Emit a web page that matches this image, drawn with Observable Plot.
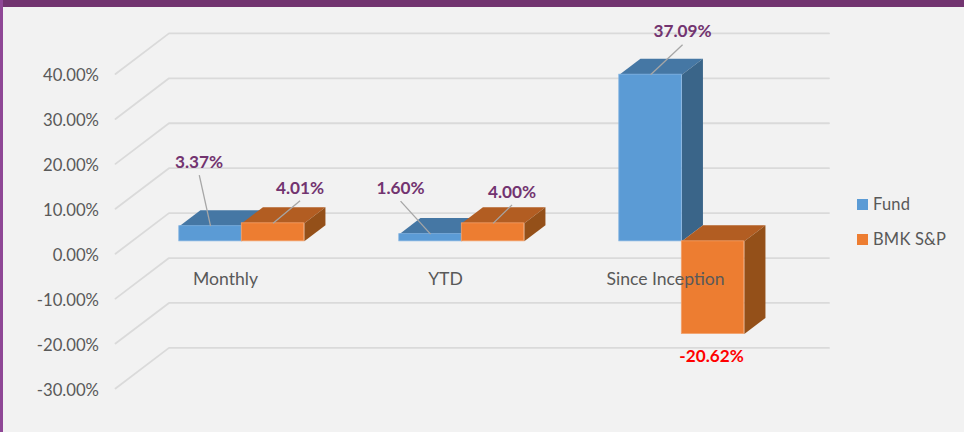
<!DOCTYPE html>
<html>
<head>
<meta charset="utf-8">
<script src="https://cdn.jsdelivr.net/npm/d3@7"></script>
<script src="https://cdn.jsdelivr.net/npm/@observablehq/plot@0.6"></script>
<style>
  html, body { margin: 0; padding: 0; background: #f2f2f2; overflow: hidden; }
  #page { position: relative; width: 964px; height: 432px; background: #f2f2f2; font-family: Lato, sans-serif; }
  #top { position: absolute; left: 0; top: 0; width: 964px; height: 7px; background: #723470; }
  #left { position: absolute; left: 0; top: 0; width: 3px; height: 432px; background: #8f4796; }
  #chart { position: absolute; left: 0; top: 0; }
  #legend { position: absolute; left: 857px; top: 0; color: #595959; font-size: 16.5px; }
  .key { position: absolute; left: 0; width: 150px; height: 20px; line-height: 20px; white-space: nowrap; }
  .key i { position: absolute; left: 0; top: 4.5px; width: 11px; height: 11px; }
  .key span { position: absolute; left: 16px; letter-spacing: .2px; }
</style>
</head>
<body>
<div id="page"><div id="chart"></div><div id="top"></div><div id="left"></div><div id="legend"></div></div>
<script>
const categories = ["Monthly", "YTD", "Since Inception"];
const fund = [3.37, 1.60, 37.09];
const bmk = [4.01, 4.00, -20.62];
const valueTicks = [40, 30, 20, 10, 0, -10, -20, -30];
const seriesNames = ["Fund", "BMK S&P"];

// Pixel offsets of each data label and the far end of its leader, from the bar's front top edge
const fundLabelOffset = [[-11.5, -64], [-30, -45.5], [32, -43.5]];
const fundLeaderOffset = [[-11.3, -51], [-30, -33], [32, -30]];
const bmkLabelOffset = [[27, -34.5], [19, -31], [-1.5, 23]];
const bmkLeaderOffset = [[27, -22.5], [19, -18.5], null];

const blue = {front: "#5b9bd5", top: "#4577a4", side: "#3a6589", edge: "#7fb1e0"};
const orange = {front: "#ed7d31", top: "#b25d22", side: "#945019", edge: "#f3a06a"};

// Oblique projection of the chart's 3D box into the flat x/y scales.
const xRange = [115, 775], yRange = [388, 73.5];
const yDomain = [-30, 40];
const pxX = 3 / (xRange[1] - xRange[0]);
const pxY = (yDomain[1] - yDomain[0]) / (yRange[0] - yRange[1]);
const depthX = 53.5 * pxX, depthY = 40.6 * pxY;
const project = (cat, value, depth) => ({x: cat + depth * depthX, y: value + depth * depthY});

const barWidth = 62.5 * pxX;
const depthFront = 0.305, depthBack = 0.70;

const gridRows = valueTicks.flatMap(v => [
  {v, ...project(0, v, 0)},
  {v, ...project(0, v, 1)},
  {v, ...project(3, v, 1)}
]);

function barMarks(values, slot, colors) {
  return values.flatMap((value, i) => {
    const x0 = i + 0.5 + (slot - 1) * barWidth, x1 = x0 + barWidth;
    const hi = Math.max(value, 0), lo = Math.min(value, 0);
    const top = [project(x0, hi, depthFront), project(x1, hi, depthFront), project(x1, hi, depthBack), project(x0, hi, depthBack)];
    const side = [project(x1, hi, depthFront), project(x1, hi, depthBack), project(x1, lo, depthBack), project(x1, lo, depthFront)];
    const a = project(x0, lo, depthFront), b = project(x1, hi, depthFront);
    return [
      Plot.line(top, {x: "x", y: "y", fill: colors.top, stroke: "none"}),
      Plot.line(side, {x: "x", y: "y", fill: colors.side, stroke: "none"}),
      Plot.rect([{x1: a.x, x2: b.x, y1: a.y, y2: b.y}], {x1: "x1", x2: "x2", y1: "y1", y2: "y2", fill: colors.front, stroke: colors.edge, strokeWidth: 0.8})
    ];
  });
}

function labelRows(values, slot, labelOffset, leaderOffset) {
  return values.map((value, i) => {
    const anchor = project(i + 0.5 + (slot - 0.5) * barWidth, value, depthFront);
    const [lx, ly] = labelOffset[i];
    const lead = leaderOffset[i];
    return {
      value,
      ax: anchor.x, ay: anchor.y,
      tx: anchor.x + lx * pxX, ty: anchor.y - ly * pxY,
      ex: lead ? anchor.x + lead[0] * pxX : null,
      ey: lead ? anchor.y - lead[1] * pxY : null
    };
  });
}

const labels = [
  ...labelRows(fund, 0, fundLabelOffset, fundLeaderOffset),
  ...labelRows(bmk, 1, bmkLabelOffset, bmkLeaderOffset)
];

const chart = Plot.plot({
  width: 964,
  height: 432,
  marginLeft: 98.5,
  marginRight: 0,
  marginTop: 0,
  marginBottom: 160,
  style: {background: "transparent", fontFamily: "Lato, sans-serif", fontSize: "16.7px", overflow: "visible"},
  x: {type: "linear", domain: [0, 3], range: xRange},
  y: {type: "linear", domain: yDomain, range: yRange},
  marks: [
    Plot.line(gridRows, {x: "x", y: "y", z: "v", stroke: "#dadada", strokeWidth: 1.8}),
    ...barMarks(fund, 0, blue),
    ...barMarks(bmk, 1, orange),
    Plot.axisY({ticks: valueTicks, tickFormat: d => d.toFixed(2) + "%", tickSize: 0, tickPadding: 0, label: null, color: "#595959", fontVariant: "normal", dy: 2}),
    Plot.axisX({ticks: categories.map((c, i) => i + 0.5), tickFormat: d => categories[d - 0.5], tickSize: 0, tickPadding: 0, label: null, anchor: "bottom", color: "#595959", fontVariant: "normal", fontSize: 17.6}),
    Plot.link(labels.filter(d => d.ex !== null), {x1: "ax", y1: "ay", x2: "ex", y2: "ey", stroke: "#a6a6a6", strokeWidth: 1.3}),
    Plot.text(labels, {
      x: "tx", y: "ty",
      text: d => d.value.toFixed(2) + "%",
      fill: d => d.value < 0 ? "#ff0000" : "#723470",
      fontWeight: "bold",
      fontSize: 17.2
    })
  ]
});
document.getElementById("chart").appendChild(chart);

const legend = document.getElementById("legend");
seriesNames.forEach((name, i) => {
  const row = document.createElement("div");
  row.className = "key";
  row.style.top = (194 + i * 35) + "px";
  const swatch = document.createElement("i");
  swatch.style.background = [blue.front, orange.front][i];
  const text = document.createElement("span");
  text.textContent = name;
  row.append(swatch, text);
  legend.append(row);
});
</script>
</body>
</html>
